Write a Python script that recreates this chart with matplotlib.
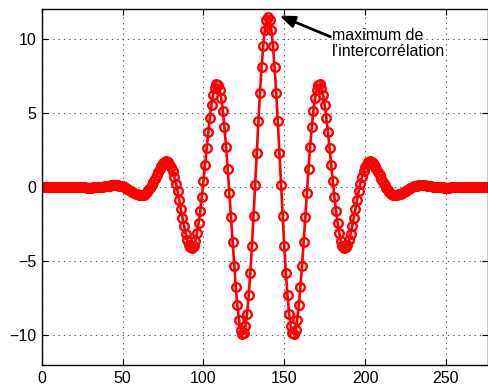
import matplotlib
matplotlib.use("Agg")
import matplotlib.pyplot as plt

# lag index and cross-correlation values
lags = list(range(0, 277))
xcorr = [
    0.00, 0.00, 0.00, 0.00, 0.00, 0.00, 0.00, 0.00, 0.00, 0.00,
    0.00, 0.00, 0.00, 0.00, 0.00, 0.00, 0.00, 0.00, 0.00, 0.00,
    0.00, 0.00, -0.01, -0.01, -0.01, -0.02, -0.02, -0.02, -0.03, -0.03,
    -0.03, -0.03, -0.02, -0.02, -0.01, 0.00, 0.01, 0.03, 0.04, 0.06,
    0.08, 0.10, 0.11, 0.13, 0.14, 0.14, 0.14, 0.13, 0.11, 0.09,
    0.05, 0.00, -0.05, -0.11, -0.17, -0.24, -0.31, -0.38, -0.44, -0.49,
    -0.53, -0.54, -0.53, -0.50, -0.43, -0.34, -0.21, -0.06, 0.13, 0.33,
    0.55, 0.79, 1.02, 1.24, 1.44, 1.60, 1.70, 1.74, 1.71, 1.59,
    1.38, 1.09, 0.71, 0.24, -0.29, -0.86, -1.46, -2.06, -2.63, -3.14,
    -3.56, -3.88, -4.06, -4.09, -3.94, -3.62, -3.12, -2.44, -1.62, -0.65,
    0.41, 1.52, 2.64, 3.70, 4.69, 5.55, 6.22, 6.70, 6.93, 6.89,
    6.58, 6.00, 5.15, 4.04, 2.73, 1.24, -0.37, -2.04, -3.70, -5.29,
    -6.74, -7.98, -8.95, -9.61, -9.91, -9.84, -9.38, -8.53, -7.31, -5.77,
    -3.97, -1.96, 0.16, 2.32, 4.43, 6.38, 8.11, 9.55, 10.61, 11.27,
    11.50,
    11.27, 10.61, 9.55, 8.11, 6.38, 4.43, 2.32, 0.16, -1.96, -3.97,
    -5.77, -7.31, -8.53, -9.38, -9.84, -9.91, -9.61, -8.95, -7.98, -6.74,
    -5.29, -3.70, -2.04, -0.37, 1.24, 2.73, 4.04, 5.15, 6.00, 6.58,
    6.89, 6.93, 6.70, 6.22, 5.55, 4.69, 3.70, 2.64, 1.52, 0.41,
    -0.65, -1.62, -2.44, -3.12, -3.62, -3.94, -4.09, -4.06, -3.88, -3.56,
    -3.14, -2.63, -2.06, -1.46, -0.86, -0.29, 0.24, 0.71, 1.09, 1.38,
    1.59, 1.71, 1.74, 1.70, 1.60, 1.44, 1.24, 1.02, 0.79, 0.55,
    0.33, 0.13, -0.06, -0.21, -0.34, -0.43, -0.50, -0.53, -0.54, -0.53,
    -0.49, -0.44, -0.38, -0.31, -0.24, -0.17, -0.11, -0.05, 0.00, 0.05,
    0.09, 0.11, 0.13, 0.14, 0.14, 0.14, 0.13, 0.11, 0.10, 0.08,
    0.06, 0.04, 0.03, 0.01, 0.00, -0.01, -0.02, -0.02, -0.03, -0.03,
    -0.03, -0.03, -0.02, -0.02, -0.02, -0.01, -0.01, -0.01, 0.00, 0.00,
    0.00, 0.00, 0.00, 0.00, 0.00, 0.00, 0.00, 0.00, 0.00, 0.00,
    0.00, 0.00, 0.00, 0.00, 0.00, 0.00,
]

x_ticks = [0, 50, 100, 150, 200, 250]
y_ticks = [-10, -5, 0, 5, 10]
peak_label = "maximum de\nl\u2019intercorr\u00e9lation"

plt.rcParams['font.family'] = ['Liberation Sans', 'DejaVu Sans']

fig = plt.figure(figsize=(4.89, 3.88), dpi=100)
ax = fig.add_axes([0.0853, 0.0593, 0.9127, 0.9168])

ax.plot(lags, xcorr, '-o', color='red', lw=1.9, ms=6.2, mfc='none', mew=1.7)

ax.set_xlim(0, 276)
ax.set_ylim(-12, 12)
ax.set_xticks(x_ticks)
ax.set_yticks(y_ticks)

ax.grid(True, linestyle=(0, (1.2, 3.6)), color='0.35', lw=0.8)
ax.set_axisbelow(True)
ax.tick_params(direction='in', top=True, right=True, length=4, width=0.8,
               labelsize=11.5, pad=4)
for sp in ax.spines.values():
    sp.set_linewidth(1.0)

# arrow pointing at the maximum, text to its right
ax.annotate('', xy=(147, 11.57), xytext=(178.5, 10.15),
            arrowprops=dict(arrowstyle='-|>,head_length=0.9,head_width=0.35',
                            color='black', lw=2, shrinkA=0, shrinkB=0))
ax.text(179.5, 8.87, peak_label, fontsize=11.5, ha='left', va='baseline',
        linespacing=1.05)

fig.savefig('out.png', dpi=100)
